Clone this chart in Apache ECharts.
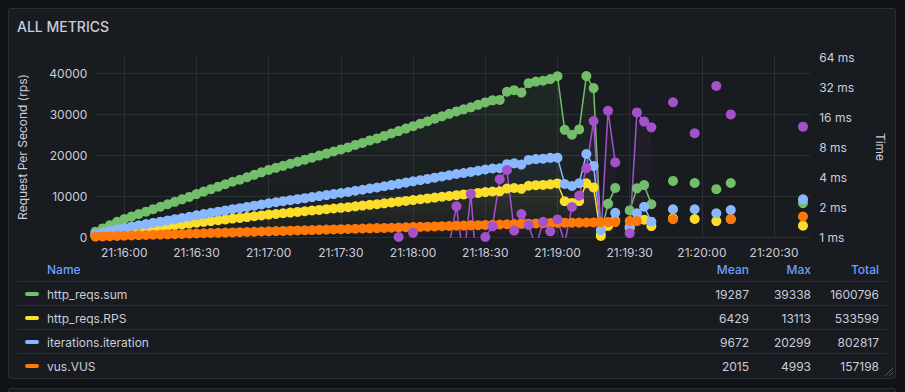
<!DOCTYPE html>
<html>
<head>
<meta charset="utf-8">
<script src="https://cdn.jsdelivr.net/npm/echarts@6/dist/echarts.min.js"></script>
<style>
html,body{margin:0;padding:0;background:#111217;width:905px;height:392px;overflow:hidden;}
.panel{position:absolute;left:8px;top:8px;width:886px;height:369px;background:#181b1f;border:1px solid #2a2d33;border-radius:2px;}
.panel2{position:absolute;left:8px;top:388px;width:886px;height:40px;background:#181b1f;border:1px solid #2a2d33;border-radius:2px;}
#chart{position:absolute;left:0;top:0;width:905px;height:392px;}
</style>
</head>
<body>
<div class="panel"></div>
<div class="panel2"></div>
<div id="chart"></div>
<script>
// ---- time grid: 3-second samples starting 21:15:48 ----
const startSecondOfDay = 21 * 3600 + 15 * 60 + 48;
const stepSeconds = 3;
const sampleCount = 100;
const xTickLabels = ['21:16:00','21:16:30','21:17:00','21:17:30','21:18:00','21:18:30','21:19:00','21:19:30','21:20:00','21:20:30'];
const leftTicks = [0, 10000, 20000, 30000, 40000];

// ---- series values (index = sample number) ----
const httpReqsSum = [
  1300,2100,2900,3700,4400,5000,5600,6200,6800,7400,
  8000,8600,9200,9800,10500,11100,11700,12300,12900,13500,
  14000,14600,15200,15800,16400,16900,17400,17900,18400,18900,
  19400,19900,20400,20900,21400,21900,22500,23000,23600,24100,
  24700,25300,25900,26500,27100,27700,28300,28900,29500,30100,
  30700,31200,31700,32300,32900,33400,33500,35500,35900,35300,
  37600,38000,38200,38600,39300,26200,25000,26300,39338,36400,
  800,8100,12000,null,6500,11900,12700,8000,null,null,
  13700,null,null,13200,null,null,11700,null,13200,null,
  null,null,null,null,null,null,null,null,8300
];
const httpReqsRPS = [
  430,700,970,1230,1470,1670,1870,2070,2270,2470,
  2670,2870,3070,3270,3500,3700,3900,4100,4300,4500,
  4670,4870,5070,5270,5470,5630,5800,5970,6130,6300,
  6470,6630,6800,6970,7130,7300,7500,7670,7870,8030,
  8230,8430,8630,8830,9030,9230,9430,9630,9830,10030,
  10230,10400,10570,10770,10970,11130,11170,11830,11970,11770,
  12530,12670,12730,12870,13100,8730,8330,8770,13113,12130,
  270,2700,4000,null,2170,3970,4230,2670,null,null,
  4570,null,null,4400,null,null,3900,null,4400,null,
  null,null,null,null,null,null,null,null,2770
];
const iterations = [
  700,1100,1500,1900,2250,2550,2850,3150,3450,3750,
  4050,4350,4650,4950,5300,5600,5900,6200,6500,6800,
  7050,7350,7650,7950,8250,8500,8750,9000,9250,9500,
  9750,10000,10250,10500,10750,11000,11300,11550,11850,12100,
  12400,12700,13000,13300,13600,13900,14200,14500,14800,15100,
  15400,15650,15900,16200,16500,16750,16800,17800,18000,17700,
  18850,19050,19150,19350,19400,12960,12470,13130,20299,17370,
  1700,3600,5900,null,2500,5800,7400,3740,null,null,
  6780,null,null,6780,null,null,5800,null,6600,null,
  null,null,null,null,null,null,null,null,9220
];
const vus = [
  100,150,200,260,320,380,430,490,540,600,
  650,700,760,810,860,920,970,1020,1080,1130,
  1180,1230,1290,1340,1390,1440,1490,1550,1600,1650,
  1700,1750,1810,1860,1910,1960,2010,2070,2120,2170,
  2220,2270,2330,2380,2430,2480,2530,2590,2640,2690,
  2740,2790,2850,2900,2950,3000,3050,3110,3160,3210,
  3260,3310,3370,3420,3470,3500,3500,3520,3540,3560,
  3600,3620,3650,null,3900,3920,null,null,null,null,
  4330,null,null,null,null,null,null,null,4330,null,
  null,null,null,null,null,null,null,null,4993
];
// latency in ms (right, log axis)
const latencyMs = [
  null,null,null,null,null,null,null,null,null,null,
  null,null,null,null,null,null,null,null,null,null,
  null,null,null,null,null,null,null,null,null,null,
  null,null,null,null,null,null,null,null,null,null,
  null,null,1.0,null,1.1,null,null,null,0.83,0.83,
  2.03,0.6,2.7,0.3,1.0,1.28,3.8,4.7,1.16,1.7,
  1.32,0.79,1.42,1.14,1.5,0.87,2.0,2.6,4.9,14.6,
  0.95,18.5,5.6,null,1.09,17.8,14.4,12.6,null,null,
  22.5,null,null,11.0,null,null,32.8,null,17.0,null,
  null,null,null,null,null,null,null,null,12.8
];

// ---- legend table ----
const legendHeaders = ['Name','Mean','Max','Total'];
const legendNames = ['http_reqs.sum','http_reqs.RPS','iterations.iteration','vus.VUS'];
const legendMean = ['19287','6429','9672','2015'];
const legendMax = ['39338','13113','20299','4993'];
const legendTotal = ['1600796','533599','802817','157198'];

const colors = ['#73BF69','#FADE2A','#8AB8FF','#FF780A','#A352CC'];
const textColor = '#ccccdc';
const gridColor = '#2b2f33';
const font = 'Inter, "Noto Sans", sans-serif';

function pad(n){ return (n < 10 ? '0' : '') + n; }
const categories = [];
for (let i = 0; i < sampleCount; i++) {
  const s = startSecondOfDay + i * stepSeconds;
  categories.push(pad(Math.floor(s / 3600)) + ':' + pad(Math.floor(s / 60) % 60) + ':' + pad(s % 60));
}
function rgba(hex, a) {
  const v = parseInt(hex.slice(1), 16);
  return 'rgba(' + ((v >> 16) & 255) + ',' + ((v >> 8) & 255) + ',' + (v & 255) + ',' + a + ')';
}
function lineSeries(name, data, color, axis, fillTop) {
  return {
    name: name, type: 'line', yAxisIndex: axis, data: data,
    symbol: 'circle', symbolSize: 10, showSymbol: true, showAllSymbol: true,
    connectNulls: false, clip: true,
    itemStyle: { color: color },
    lineStyle: { color: color, width: 1.5 },
    areaStyle: {
      color: new echarts.graphic.LinearGradient(0, 0, 0, 1, [
        { offset: 0, color: rgba(color, fillTop) },
        { offset: 1, color: rgba(color, 0) }
      ])
    },
    emphasis: { disabled: true },
    animation: false
  };
}
const isTick = (idx, val) => xTickLabels.indexOf(val) >= 0;

// legend table graphics
const graphics = [];
const headerY = 269, rowY0 = 294, rowH = 24;
const colRight = [749, 811, 879];
graphics.push({ type: 'text', x: 47, y: headerY, style: { text: legendHeaders[0], fill: '#6E9FFF', font: '500 12px ' + font, textAlign: 'left', textVerticalAlign: 'middle', align: 'left', verticalAlign: 'middle' } });
for (let c = 1; c < legendHeaders.length; c++) {
  graphics.push({ type: 'text', x: colRight[c - 1], y: headerY, style: { text: legendHeaders[c], fill: '#6E9FFF', font: '500 12px ' + font, textAlign: 'right', textVerticalAlign: 'middle', align: 'right', verticalAlign: 'middle' } });
}
for (let r = 0; r < legendNames.length; r++) {
  const y = rowY0 + r * rowH;
  graphics.push({ type: 'line', shape: { x1: 17, y1: y - 12.5, x2: 887, y2: y - 12.5 }, style: { stroke: '#2c2f34', lineWidth: 1 } });
  graphics.push({ type: 'rect', shape: { x: 25, y: y - 2, width: 14, height: 4, r: 2 }, style: { fill: colors[r] } });
  graphics.push({ type: 'text', x: 47, y: y, style: { text: legendNames[r], fill: textColor, font: '12px ' + font, textAlign: 'left', textVerticalAlign: 'middle', align: 'left', verticalAlign: 'middle' } });
  const vals = [legendMean[r], legendMax[r], legendTotal[r]];
  for (let c = 0; c < 3; c++) {
    graphics.push({ type: 'text', x: colRight[c], y: y, style: { text: vals[c], fill: textColor, font: '12px ' + font, textAlign: 'right', textVerticalAlign: 'middle', align: 'right', verticalAlign: 'middle' } });
  }
}
// resize handle
graphics.push({ type: 'line', shape: { x1: 885, y1: 376, x2: 893, y2: 368 }, style: { stroke: '#55585e', lineWidth: 1 } });
graphics.push({ type: 'line', shape: { x1: 889, y1: 376, x2: 893, y2: 372 }, style: { stroke: '#55585e', lineWidth: 1 } });

const chart = echarts.init(document.getElementById('chart'), null, { renderer: 'svg' });
chart.setOption({
  backgroundColor: 'transparent',
  animation: false,
  textStyle: { fontFamily: font },
  title: {
    text: 'ALL METRICS', left: 17, top: 19, padding: 0,
    textStyle: { color: textColor, fontSize: 14, fontWeight: 500, fontFamily: font }
  },
  grid: { left: 95.4, top: 57, width: 714.8, height: 180, containLabel: false },
  xAxis: {
    type: 'category', data: categories, boundaryGap: false,
    axisLine: { show: false }, axisTick: { show: false },
    axisLabel: { interval: isTick, color: textColor, fontSize: 12, fontFamily: font, margin: 9 },
    splitLine: { show: true, interval: isTick, lineStyle: { color: gridColor, width: 1 } }
  },
  yAxis: [
    {
      type: 'value', position: 'left', min: leftTicks[0], max: 44000, interval: leftTicks[1] - leftTicks[0],
      name: 'Request Per Second (rps)', nameLocation: 'middle', nameGap: 67, nameRotate: 90,
      nameTextStyle: { color: textColor, fontSize: 12, fontFamily: font },
      axisLine: { show: false }, axisTick: { show: false },
      axisLabel: { color: textColor, fontSize: 12, fontFamily: font, margin: 8, showMaxLabel: false, formatter: v => String(v) },
      splitLine: { show: true, showMaxLine: false, lineStyle: { color: gridColor, width: 1 } }
    },
    {
      type: 'log', logBase: 2, position: 'right', min: 1, max: 64, splitNumber: 6,
      name: 'Time', nameLocation: 'middle', nameGap: 64, nameRotate: -90,
      nameTextStyle: { color: textColor, fontSize: 12, fontFamily: font },
      axisLine: { show: false }, axisTick: { show: false },
      axisLabel: { color: textColor, fontSize: 12, fontFamily: font, margin: 9, formatter: v => v + ' ms' },
      splitLine: { show: false }
    }
  ],
  graphic: graphics,
  series: [
    lineSeries(legendNames[0], httpReqsSum, colors[0], 0, 0.12),
    lineSeries(legendNames[1], httpReqsRPS, colors[1], 0, 0.1),
    lineSeries(legendNames[2], iterations, colors[2], 0, 0.1),
    lineSeries(legendNames[3], vus, colors[3], 0, 0.1),
    lineSeries('http_req_duration', latencyMs, colors[4], 1, 0.12)
  ]
});
</script>
</body>
</html>
